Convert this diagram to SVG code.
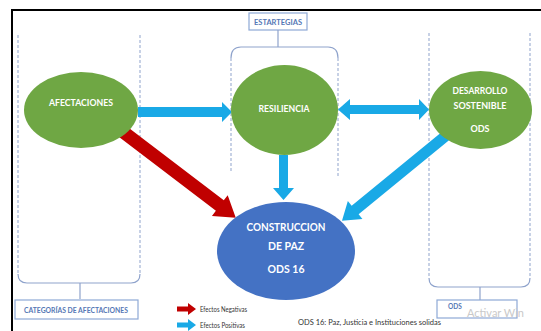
<svg xmlns="http://www.w3.org/2000/svg" width="541" height="331" viewBox="0 0 541 331">
<style>
.dash{fill:none;stroke:#8fa3cc;stroke-width:1;stroke-dasharray:3,2}
.brk{fill:none;stroke:#8fa3cc;stroke-width:1.2}
.box{fill:#fff;stroke:#8ea9d6;stroke-width:1.2}
.boxt{font-family:Lato,"Liberation Sans",sans-serif;font-weight:bold;font-size:6.5px;fill:#5577b5;text-anchor:middle}
.green{fill:#6fa744}
.blue{fill:#4472c4}
.nt{font-family:Lato,"Liberation Sans",sans-serif;font-weight:bold;font-size:9px;fill:#fff;text-anchor:middle}
.nt2{font-family:Lato,"Liberation Sans",sans-serif;font-weight:bold;font-size:10.5px;fill:#fff;text-anchor:middle}
.pos{fill:#19a9e6}
.neg{fill:#c00000}
.lg{font-family:Lato,"Liberation Sans",sans-serif;font-size:8px;fill:#333}
</style>
<rect width="541" height="331" fill="#fff"/>
<path d="M12,331 V10 H541" fill="none" stroke="#000" stroke-width="2"/>

<g id="estartegias">
<rect class="box" x="249" y="13" width="58" height="17"/>
<text class="boxt" x="278" y="24.5" textLength="48" lengthAdjust="spacingAndGlyphs">ESTARTEGIAS</text>
<path class="brk" d="M278,30 V47 M231,58 Q231,47 241,47 H328 Q338,47 338,58"/>
<path class="dash" d="M231,58 V172 M338,58 V176"/>
</g>

<g id="categorias">
<path class="dash" d="M18,35 V274 M140,35 V274"/>
<path class="brk" d="M18,274 Q18,283 27,283 H131 Q140,283 140,274 M80,283 V299"/>
<rect class="box" x="15" y="300" width="123" height="19"/>
<text class="boxt" x="76" y="312.5" textLength="104" lengthAdjust="spacingAndGlyphs">CATEGORÍAS DE AFECTACIONES</text>
</g>

<g id="ods">
<path class="dash" d="M429,33 V278 M530,33 V278"/>
<path class="brk" d="M429,278 Q429,287 438,287 H521 Q530,287 530,278 M480,287 V300"/>
<rect class="box" x="437" y="300" width="80" height="18"/>
<text class="boxt" x="455" y="309" font-size="5.5">ODS</text>
</g>

<g id="connectors">
<polygon class="pos" points="138,107 222,107 222,102 232,112 222,122 222,117 138,117"/>
<polygon class="pos" points="338,109.5 350,99 350,105 419,105 419,99 429,109.5 419,120 419,114 350,114 350,120"/>
<polygon class="pos" points="279,155 288,155 288,188 294,188 283.5,200 273,188 279,188"/>
<g transform="translate(122,131) rotate(37.3)">
<polygon class="neg" points="0,-6.5 123,-6.5 123,-13 143,0 123,13 123,6.5 0,6.5"/>
</g>
<g transform="translate(448,134) rotate(140.7)">
<polygon class="pos" points="0,-5.5 120,-5.5 120,-11.5 137,0 120,11.5 120,5.5 0,5.5"/>
</g>
</g>

<g id="afectaciones">
<ellipse class="green" cx="81" cy="110" rx="57" ry="38"/>
<text class="nt" x="81" y="106" textLength="64" lengthAdjust="spacingAndGlyphs">AFECTACIONES</text>
</g>

<g id="resiliencia">
<ellipse class="green" cx="284.5" cy="110" rx="53.5" ry="45"/>
<text class="nt" x="284" y="112" textLength="51" lengthAdjust="spacingAndGlyphs">RESILIENCIA</text>
</g>

<g id="desarrollo">
<ellipse class="green" cx="480.5" cy="110" rx="51.5" ry="39"/>
<text class="nt" x="480" y="94" textLength="55" lengthAdjust="spacingAndGlyphs">DESARROLLO</text>
<text class="nt" x="480" y="108.5" textLength="53" lengthAdjust="spacingAndGlyphs">SOSTENIBLE</text>
<text class="nt" x="480" y="131.5">ODS</text>
</g>

<g id="construccion">
<ellipse class="blue" cx="286" cy="251" rx="69" ry="49"/>
<text class="nt2" x="286" y="231" textLength="79" lengthAdjust="spacingAndGlyphs">CONSTRUCCION</text>
<text class="nt2" x="286" y="250">DE PAZ</text>
<text class="nt2" x="286" y="273">ODS 16</text>
</g>

<g id="legend">
<polygon class="neg" points="177,306.5 188,306.5 188,303 196,309 188,315 188,311.5 177,311.5"/>
<text class="lg" x="200" y="312" textLength="47" lengthAdjust="spacingAndGlyphs">Efectos Negativas</text>
<polygon class="pos" points="177,322.5 188,322.5 188,319 196,325 188,331 188,327.5 177,327.5"/>
<text class="lg" x="200" y="328" textLength="45" lengthAdjust="spacingAndGlyphs">Efectos Positivas</text>
<text class="lg" x="298" y="325" textLength="143" lengthAdjust="spacingAndGlyphs">ODS 16: Paz, Justicia e Instituciones solidas</text>
</g>
<text x="467" y="317" font-family="Lato,'Liberation Sans',sans-serif" font-size="11" fill="#c9c9c9">Activar Win</text>
</svg>
